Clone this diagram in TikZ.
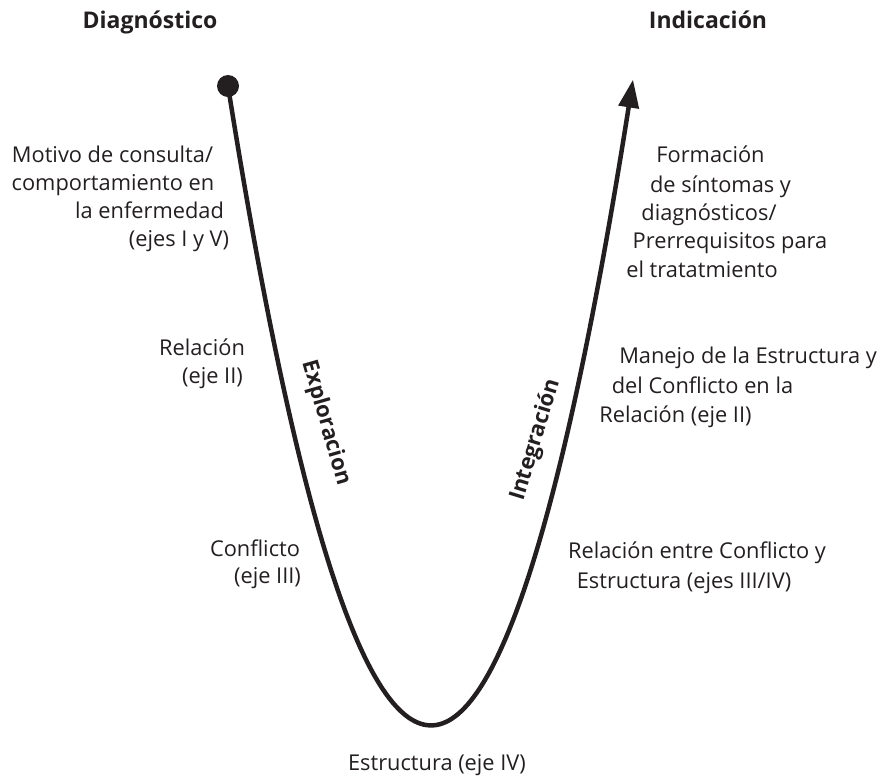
\documentclass[tikz,border=0pt]{standalone}
\usepackage{fontspec}
\setmainfont{Open Sans}
\usetikzlibrary{arrows.meta}
\definecolor{ink}{HTML}{231F20}
\tikzset{
  lbl/.style={anchor=base, inner sep=0pt, text=ink, font=\fontsize{21.8}{28}\selectfont},
  head/.style={anchor=base, inner sep=0pt, text=ink, font=\fontsize{23}{28}\selectfont\bfseries},
  rotlbl/.style={inner sep=0pt, text=ink, font=\fontsize{22}{28}\selectfont\bfseries},
  curve/.style={draw=ink, line width=4.5pt, -{Triangle[length=28pt,width=20pt]}},
  dotnode/.style={circle, fill=ink, inner sep=0pt, minimum size=22pt}
}
\begin{document}
\begin{tikzpicture}[x=1pt,y=-1pt]
\useasboundingbox (0,0) rectangle (882,780);
% headings
\node[head] (diag) at (150,28) {Diagnóstico};
\node[head] (indic) at (708,28) {Indicación};
% curve
\node[dotnode] (start) at (228,86) {};
\coordinate (tip) at (633,79.6);
\draw[curve] (start.center) .. controls (363,936.2) and (498,934.1) .. (tip);
% rotated labels
\node[rotlbl, rotate=-74] (expl) at (326,423) {Exploracion};
\node[rotlbl, rotate=73] (integ) at (536,440) {Integración};
% left labels
\node[lbl] (m1) at (112.5,162) {Motivo de consulta/};
\node[lbl] (m2) at (113,190) {comportamiento en};
\node[lbl] (m3) at (149.5,218) {la enfermedad};
\node[lbl] (m4) at (179,246) {(ejes I y V)};
\node[lbl] (r1) at (202,355) {Relación};
\node[lbl] (r2) at (212.5,383) {(eje II)};
\node[lbl] (c1) at (255,556) {Conflicto};
\node[lbl] (c2) at (267.5,583) {(eje III)};
% right labels
\node[lbl] (f1) at (710.5,162) {Formación};
\node[lbl] (f2) at (720.5,192) {de síntomas y};
\node[lbl] (f3) at (709,220) {diagnósticos/};
\node[lbl] (f4) at (730,248) {Prerrequisitos para};
\node[lbl, anchor=base east] (f5) at (778,277) {el tratatmiento};
\node[lbl] (g1) at (748,363) {Manejo de la Estructura y};
\node[lbl] (g2) at (702.5,393) {del Conflicto en la};
\node[lbl] (g3) at (675.5,422) {Relación (eje II)};
\node[lbl] (h1) at (697,558) {Relación entre Conflicto y};
\node[lbl] (h2) at (684,588) {Estructura (ejes III/IV)};
% bottom
\node[lbl] (e1) at (437,770) {Estructura (eje IV)};
\end{tikzpicture}
\end{document}
